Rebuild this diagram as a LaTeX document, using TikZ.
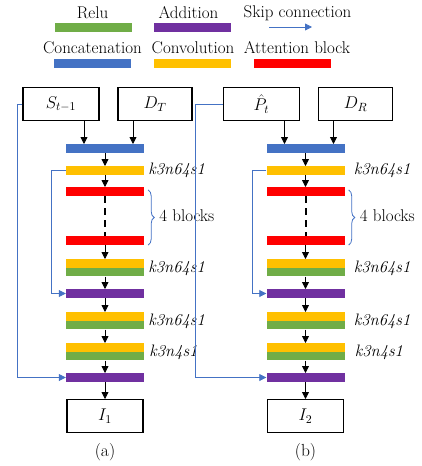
\RequirePackage{fix-cm}
\documentclass[tikz,border=0pt]{standalone}
\usepackage{fontspec}
\setmainfont{Latin Modern Roman}
\usetikzlibrary{arrows.meta,decorations.pathreplacing,calc}
\definecolor{cgreen}{HTML}{70AD47}
\definecolor{cpurple}{HTML}{7030A0}
\definecolor{cblue}{HTML}{4472C4}
\definecolor{cyellow}{HTML}{FFC000}
\definecolor{cred}{HTML}{FF0000}
\tikzset{
  bar/.style={rectangle, inner sep=0pt, minimum width=78pt, minimum height=8.6pt, anchor=north},
  lbar/.style={rectangle, inner sep=0pt, minimum width=77pt, minimum height=8.6pt},
  inbox/.style={draw, line width=1.1pt, rectangle, minimum width=76pt, minimum height=33pt, inner sep=0pt, anchor=north, font=\fontsize{17}{20}\selectfont},
  flow/.style={-{Triangle[length=7pt,width=7pt]}, line width=0.8pt},
  skip/.style={cblue, line width=0.8pt, -{Triangle[length=7pt,width=7pt]}},
  dashline/.style={line width=2pt, dash pattern=on 7pt off 5pt},
  lbl/.style={font=\fontsize{16.6}{20}\selectfont\itshape, anchor=west, inner sep=0pt},
  txt/.style={font=\fontsize{17}{20}\selectfont, inner sep=0pt},
  bracestyle/.style={cblue, line width=0.8pt, decorate, decoration={brace, amplitude=6pt}},
}
% #1 prefix, #2 center x, #3 input1, #4 input2, #5 outer skip x, #6 label offset, #7 caption, #8 output
\newcommand\drawpanel[8]{%
  \node[inbox] (#1in1) at (#2-44,87) {$#3$};
  \node[inbox, minimum width=74pt] (#1in2) at (#2+50,87) {$#4$};
  \node[bar, fill=cblue] (#1cat) at (#2,144) {};
  \node[bar, fill=cyellow] (#1c1) at (#2,166) {};
  \node[bar, fill=cred] (#1r1) at (#2,187) {};
  \node[bar, fill=cred] (#1r2) at (#2,236) {};
  \node[bar, fill=cyellow] (#1c2) at (#2,259) {};
  \node[bar, fill=cgreen] (#1g2) at (#2,267.5) {};
  \node[bar, fill=cpurple] (#1a1) at (#2,289) {};
  \node[bar, fill=cyellow] (#1c3) at (#2,312) {};
  \node[bar, fill=cgreen] (#1g3) at (#2,320.5) {};
  \node[bar, fill=cyellow] (#1c4) at (#2,343) {};
  \node[bar, fill=cgreen] (#1g4) at (#2,351.5) {};
  \node[bar, fill=cpurple] (#1a2) at (#2,373) {};
  \node[inbox] (#1out) at (#2,399) {$#8$};
  \node[txt, font=\fontsize{17.5}{20}\selectfont] (#1cap) at (#2,452) {#7};
  % inputs to concatenation
  \draw[flow] ([xshift=23pt]#1in1.south) -- ([xshift=23pt]#1in1.south |- #1cat.north);
  \draw[flow] ([xshift=-22pt]#1in2.south) -- ([xshift=-22pt]#1in2.south |- #1cat.north);
  % main flow
  \draw[flow] (#1cat.south) -- (#1c1.north);
  \draw[flow] (#1c1.south) -- (#1r1.north);
  \draw[dashline] (#1r1.south) -- (#1r2.north);
  \draw[flow] (#1r2.south) -- (#1c2.north);
  \draw[flow] (#1g2.south) -- (#1a1.north);
  \draw[flow] (#1a1.south) -- (#1c3.north);
  \draw[flow] (#1g3.south) -- (#1c4.north);
  \draw[flow] (#1g4.south) -- (#1a2.north);
  \draw[flow] (#1a2.south) -- (#1out.north);
  % skip connections
  \draw[skip] (#1c1.west) -- ++(-14,0) |- (#1a1.west);
  \coordinate (#1ox) at (#5,0);
  \draw[skip] (#1in1.west) -- (#1in1.west -| #1ox) |- (#1a2.west);
  % labels
  \node[lbl] (#1l1) at ([xshift=#6]#1c1.east) {k3n64s1};
  \node[lbl] (#1l2) at ([xshift=#6]#1c2.south east) {k3n64s1};
  \node[lbl] (#1l3) at ([xshift=#6]#1c3.south east) {k3n64s1};
  \node[lbl] (#1l4) at ([xshift=#6+1pt]#1c4.south east) {k3n4s1};
  % brace
  \coordinate (#1b1) at ([xshift=4pt,yshift=-3pt]#1r1.north east);
  \coordinate (#1b2) at ([xshift=4pt]#1r2.south east);
  \draw[bracestyle] (#1b1) -- (#1b2);
  \node[txt, anchor=west] (#1blk) at ([xshift=15pt]$(#1r1.east)!0.5!(#1r2.east)$) {4 blocks};
}
\begin{document}
\begin{tikzpicture}[x=1pt,y=-1pt]
  \useasboundingbox (0,0) rectangle (421,466);
  % legend
  \node[txt] (tRelu) at (92.5,13) {Relu};
  \node[txt] (tAdd) at (188.5,13) {Addition};
  \node[txt] (tSkip) at (297.5,13) {Skip connection};
  \node[txt] (tCat) at (92.5,48) {Concatenation};
  \node[txt] (tConv) at (193,48) {Convolution};
  \node[txt] (tAtt) at (297,48) {Attention block};
  \node[lbar, fill=cgreen] (lg) at (93.5,27.5) {};
  \node[lbar, fill=cpurple] (lp) at (192,27.5) {};
  \coordinate (sk1) at (269,27);
  \coordinate (sk2) at (312,27);
  \draw[skip] (sk1) -- (sk2);
  \node[lbar, fill=cblue] (lb) at (92.5,63.5) {};
  \node[lbar, fill=cyellow] (ly) at (192.5,63.5) {};
  \node[lbar, fill=cred] (lr) at (292.5,63.5) {};
  % panels
  \drawpanel{a}{105}{S_{t-1}}{D_T}{17}{4pt}{(a)}{I_1}
  \drawpanel{b}{305.5}{\hat{P}_t}{D_R}{195}{9pt}{(b)}{I_2}
\end{tikzpicture}
\end{document}
